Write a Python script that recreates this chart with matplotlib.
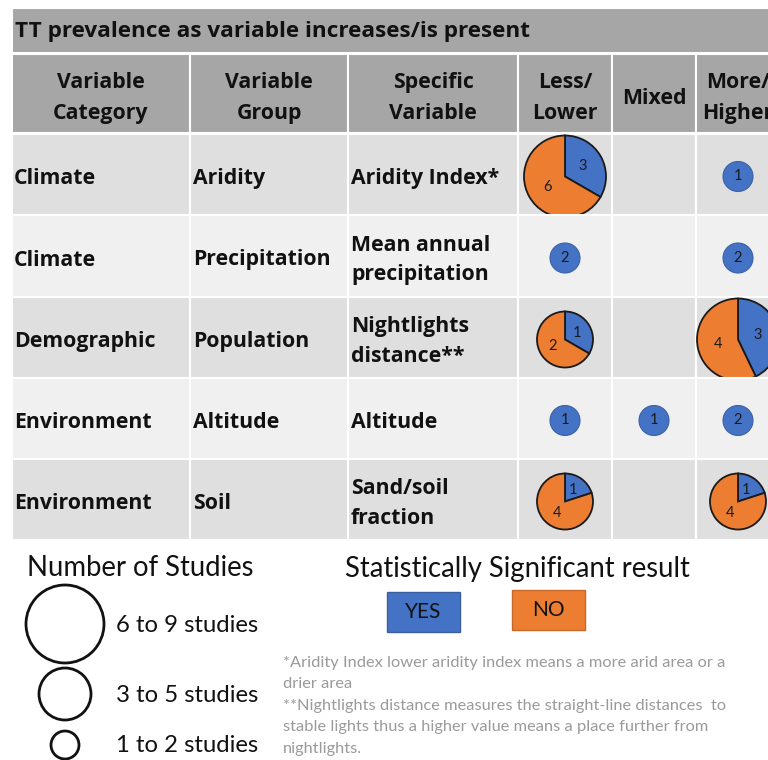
import matplotlib.pyplot as plt
from matplotlib.patches import Rectangle, Circle

# table content
title = "TT prevalence as variable increases/is present"
headers = ["Variable\nCategory", "Variable\nGroup", "Specific\nVariable",
           "Less/\nLower", "Mixed", "More/\nHigher"]
categories = ["Climate", "Climate", "Demographic", "Environment", "Environment"]
groups = ["Aridity", "Precipitation", "Population", "Altitude", "Soil"]
specific = ["Aridity Index*", "Mean annual\nprecipitation", "Nightlights\ndistance**",
            "Altitude", "Sand/soil\nfraction"]

# number of studies per direction: significant (yes) / not significant (no)
less_yes = [3, 2, 1, 1, 1]
less_no = [6, 0, 2, 0, 4]
mixed_yes = [0, 0, 0, 1, 0]
mixed_no = [0, 0, 0, 0, 0]
more_yes = [1, 2, 3, 2, 1]
more_no = [0, 0, 4, 0, 4]

size_labels = ["6 to 9 studies", "3 to 5 studies", "1 to 2 studies"]
footnote = ("*Aridity Index lower aridity index means a more arid area or a\n"
            "drier area\n"
            "**Nightlights distance measures the straight-line distances  to\n"
            "stable lights thus a higher value means a place further from\n"
            "nightlights.")

blue = "#4472C4"
orange = "#ED7D31"
hdr_gray = "#A6A6A6"
row_cols = ["#DFDFDF", "#F0F0F0"]

col_edges = [12, 190, 348, 518, 612, 696, 780]
row_edges = [134, 215, 297, 378, 459, 540]

fig = plt.figure(figsize=(7.68, 7.6), dpi=100)
ax = fig.add_axes([0, 0, 1, 1])
ax.set_xlim(0, 768)
ax.set_ylim(760, 0)
ax.set_autoscale_on(False)
ax.axis("off")

tfont = dict(family="Open Sans", weight="bold", fontsize=15.3, color="#111111")
lfont = dict(family="Lato", color="#111111")


def radius_for(n):
    if n <= 2:
        return 15
    if n <= 5:
        return 28
    return 41


def draw_pie(cx, cy, yes, no):
    total = yes + no
    if total == 0:
        return
    vals = [v for v in (yes, no) if v > 0]
    cols = [c for v, c in zip((yes, no), (blue, orange)) if v > 0]
    single = len(vals) == 1
    ax.pie(vals, colors=cols, startangle=-90, counterclock=True,
           center=(cx, cy), radius=radius_for(total), frame=True,
           autopct=lambda p: f"{p * total / 100:.0f}",
           pctdistance=0 if single else 0.5,
           wedgeprops=dict(edgecolor="#3B62A6" if single else "#1a1a1a",
                           linewidth=0.8 if single else 1.3),
           textprops=dict(fontsize=10.5, color="#1a1a1a", family="Lato"))


# title bar and header row
ax.add_patch(Rectangle((col_edges[0], 8), 768, 45, facecolor=hdr_gray,
                       edgecolor="white", linewidth=1.5))
ax.text(15, 32, title, va="center", ha="left", **{**tfont, "fontsize": 16.2})
for j, h in enumerate(headers):
    x0, x1 = col_edges[j], col_edges[j + 1]
    ax.add_patch(Rectangle((x0, 54), x1 - x0, 79, facecolor=hdr_gray,
                           edgecolor="white", linewidth=1.5))
    ax.text((x0 + x1) / 2, 98, h, ha="center", va="center",
            linespacing=1.6, **tfont)

# body rows
for i in range(len(categories)):
    y0, y1 = row_edges[i], row_edges[i + 1]
    yc = (y0 + y1) / 2
    for j in range(len(headers)):
        x0, x1 = col_edges[j], col_edges[j + 1]
        ax.add_patch(Rectangle((x0, y0), x1 - x0, y1 - y0,
                               facecolor=row_cols[i % 2], edgecolor="white",
                               linewidth=1.5))
    ax.text(col_edges[0] + 2, yc + 4, categories[i], ha="left", va="center", **tfont)
    ax.text(col_edges[1] + 3, yc + 4, groups[i], ha="left", va="center", **tfont)
    ax.text(col_edges[2] + 3, yc + 4, specific[i], ha="left", va="center",
            linespacing=1.55, **tfont)
    cols = [(less_yes, less_no), (mixed_yes, mixed_no), (more_yes, more_no)]
    for k, (ys, ns) in enumerate(cols):
        cx = (col_edges[3 + k] + col_edges[4 + k]) / 2
        draw_pie(cx, yc + 2, ys[i], ns[i])

# legend: number of studies
ax.text(140, 568, "Number of Studies", ha="center", va="center", fontsize=19.8, **lfont)
for lab, n, cy in zip(size_labels, [9, 5, 2], [624, 694, 745]):
    ax.add_patch(Circle((65, cy), radius_for(n) - 2 if n > 2 else 14,
                        facecolor="none", edgecolor="#111111", linewidth=2))
    ax.text(116, cy + 1, lab, ha="left", va="center", fontsize=17.2, **lfont)

# legend: significance
ax.text(517, 569, "Statistically Significant result", ha="center", va="center",
        fontsize=19.8, **lfont)
ax.add_patch(Rectangle((387, 592), 73, 40, facecolor=blue, edgecolor="#3A5E9E", linewidth=1))
ax.text(423.5, 612, "YES", ha="center", va="center", fontsize=15, **lfont)
ax.add_patch(Rectangle((512, 590), 73, 40, facecolor=orange, edgecolor="#C8692A", linewidth=1))
ax.text(548.5, 610, "NO", ha="center", va="center", fontsize=15, **lfont)

ax.text(283, 656, footnote, ha="left", va="top", fontsize=11.8, family="Lato",
        color="#9A9A9A", linespacing=1.68)

ax.set_xlim(0, 768)
ax.set_ylim(760, 0)
fig.savefig("out.png", dpi=100, facecolor="white")
